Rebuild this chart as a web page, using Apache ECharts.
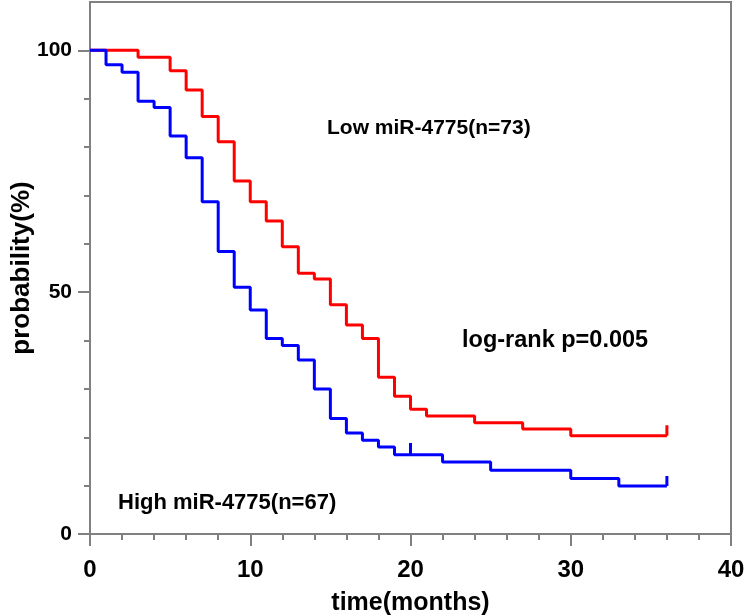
<!DOCTYPE html>
<html lang="en">
<head>
    <meta charset="UTF-8">
    <title>miR-4775 survival</title>
    <script src="https://cdn.jsdelivr.net/npm/echarts@6/dist/echarts.min.js"></script>
    <style>
        html, body { margin: 0; padding: 0; background: #fff; }
        #main { width: 744px; height: 616px; }
    </style>
</head>
<body>
<div id="main"></div>
<script>
    // Kaplan-Meier steps: time (months) and survival after the event (%)
    let lowTimes = [0, 3, 5, 6, 7, 8, 9, 10, 11, 12, 13, 14, 15, 16, 17, 18, 19, 20, 21, 24, 27, 30, 36];
    let lowSurv = [100, 98.6, 95.8, 91.8, 86.3, 81.1, 73.0, 68.7, 64.7, 59.4, 53.9, 52.7, 47.4, 43.2, 40.4, 32.4, 28.5, 25.8, 24.4, 23.0, 21.7, 20.3, 20.3];
    let highTimes = [0, 1, 2, 3, 4, 5, 6, 7, 8, 9, 10, 11, 12, 13, 14, 15, 16, 17, 18, 19, 22, 25, 30, 33, 36];
    let highSurv = [100, 97.0, 95.5, 89.5, 88.2, 82.3, 77.8, 68.7, 58.4, 51.0, 46.3, 40.4, 39.0, 36.0, 30.0, 23.9, 20.9, 19.4, 18.0, 16.4, 14.9, 13.2, 11.5, 9.9, 9.9];
    // censor marks: time, line level, top of the mark
    let lowCensor = [[36, 20.3, 22.5]];
    let highCensor = [[20, 16.4, 18.8], [36, 9.9, 12.0]];

    let xTicks = [0, 10, 20, 30, 40];
    let yLabels = [0, 50, 100];
    let yMinor = [10, 20, 30, 40, 60, 70, 80, 90];

    let font = '"Liberation Sans", Arial, sans-serif';
    let gray = '#808080';

    function pairs(xs, ys) {
        let out = [];
        for (let i = 0; i < xs.length; i++) {
            out.push([xs[i], ys[i]]);
        }
        return out;
    }

    function censorSeries(list, color) {
        return list.map(function (c) {
            return {
                type: 'line',
                data: [[c[0], c[1]], [c[0], c[2]]],
                symbol: 'none',
                lineStyle: {color: color, width: 3},
                silent: true,
                z: 3
            };
        });
    }

    let myChart = echarts.init(document.getElementById('main'));

    let option = {
        animation: false,
        grid: {
            left: 90,
            right: 13,
            top: 2,
            bottom: 82,
            outerBoundsMode: 'none',
            containLabel: false,
            show: true,
            borderColor: gray,
            borderWidth: 2
        },
        xAxis: {
            type: 'value',
            min: xTicks[0],
            max: xTicks[xTicks.length - 1],
            interval: 10,
            name: 'time(months)',
            nameLocation: 'middle',
            nameGap: 57,
            nameTextStyle: {fontFamily: font, fontWeight: 'bold', fontSize: 25, color: '#000'},
            axisLine: {lineStyle: {color: gray, width: 2}},
            axisTick: {length: 12, lineStyle: {color: gray, width: 2}},
            minorTick: {show: true, splitNumber: 5, length: 6, lineStyle: {color: gray, width: 2}},
            splitLine: {show: false},
            axisLabel: {fontFamily: font, fontWeight: 'bold', fontSize: 24, color: '#000', margin: 24}
        },
        yAxis: [
            {
                type: 'value',
                min: 0,
                max: 110,
                interval: 10,
                name: 'probability(%)',
                nameLocation: 'middle',
                nameGap: 55,
                nameMoveOverlap: false,
                nameTextStyle: {fontFamily: font, fontWeight: 'bold', fontSize: 26, color: '#000'},
                axisLine: {lineStyle: {color: gray, width: 2}},
                axisTick: {length: 12, customValues: yLabels, lineStyle: {color: gray, width: 2}},
                splitLine: {show: false},
                axisLabel: {customValues: yLabels, fontFamily: font, fontWeight: 'bold', fontSize: 21, color: '#000', margin: 18}
            },
            {
                type: 'value',
                min: 0,
                max: 110,
                interval: 10,
                position: 'left',
                axisLine: {show: false},
                axisTick: {length: 6, customValues: yMinor, lineStyle: {color: gray, width: 2}},
                axisLabel: {show: false},
                splitLine: {show: false}
            }
        ],
        series: [
            {
                name: 'Low miR-4775',
                type: 'line',
                step: 'end',
                symbol: 'none',
                data: pairs(lowTimes, lowSurv),
                lineStyle: {color: '#ff0000', width: 3},
                z: 2
            },
            {
                name: 'High miR-4775',
                type: 'line',
                step: 'end',
                symbol: 'none',
                data: pairs(highTimes, highSurv),
                lineStyle: {color: '#0000ff', width: 3},
                z: 3
            }
        ].concat(censorSeries(lowCensor, '#ff0000'), censorSeries(highCensor, '#0000ff')),
        graphic: [
            {
                type: 'text', left: 327, top: 118,
                style: {text: 'Low miR-4775(n=73)', font: 'bold 21px ' + font, fill: '#000'}
            },
            {
                type: 'text', left: 462, top: 329,
                style: {text: 'log-rank p=0.005', font: 'bold 23.5px ' + font, fill: '#000'}
            },
            {
                type: 'text', left: 118, top: 492,
                style: {text: 'High miR-4775(n=67)', font: 'bold 22px ' + font, fill: '#000'}
            }
        ]
    };

    myChart.setOption(option);
</script>
</body>
</html>
